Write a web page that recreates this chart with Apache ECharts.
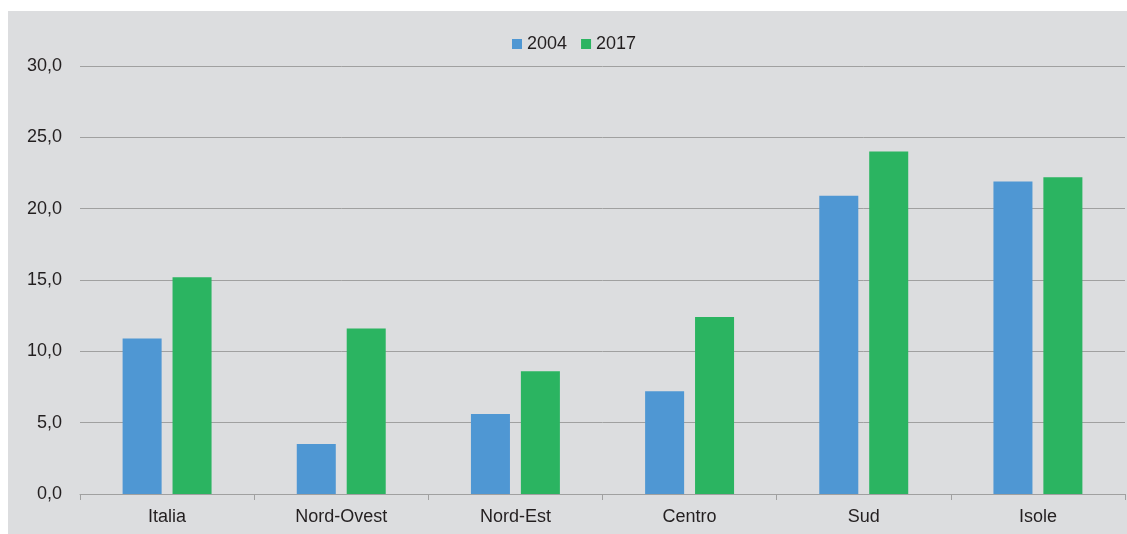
<!DOCTYPE html>
<html><head><meta charset="utf-8">
<script src="https://cdn.jsdelivr.net/npm/echarts@6/dist/echarts.min.js"></script>
<style>
html,body{margin:0;padding:0;background:#fff;width:1127px;height:534px;overflow:hidden;}
#c{position:absolute;left:8px;top:11px;width:1119px;height:523px;background:#dcdddf;}
</style></head>
<body><div id="c"></div>
<script>
const categories = ['Italia','Nord-Ovest','Nord-Est','Centro','Sud','Isole'];
const series2004 = [10.9, 3.5, 5.6, 7.2, 20.9, 21.9];
const series2017 = [15.2, 11.6, 8.6, 12.4, 24.0, 22.2];
const seriesNames = ['2004','2017'];
const chart = echarts.init(document.getElementById('c'));
const font = 'Liberation Sans, Arial, sans-serif';
chart.setOption({
  animation:false,
  backgroundColor:'#dcdddf',
  legend:{top:19,left:499,itemWidth:10,itemHeight:10,itemGap:14,icon:'rect',
    textStyle:{fontFamily:font,fontSize:18,color:'#231f20'},data:seriesNames},
  grid:{left:72,right:2,top:55,bottom:40,containLabel:false},
  xAxis:{type:'category',data:categories,
    axisLine:{lineStyle:{color:'#a0a0a0',width:1}},
    axisTick:{show:true,length:6,lineStyle:{color:'#a0a0a0'}},
    axisLabel:{fontFamily:font,fontSize:18,color:'#231f20',margin:14}},
  yAxis:{type:'value',min:0,max:30,interval:5,
    axisLabel:{fontFamily:font,fontSize:18,color:'#231f20',margin:18,formatter:v=>v.toFixed(1).replace('.',',')},
    splitLine:{lineStyle:{color:'#a0a0a0',width:1}},
    axisLine:{show:false},axisTick:{show:false}},
  series:[
    {name:seriesNames[0],type:'bar',data:series2004,barWidth:'22.4%',barGap:'28%',itemStyle:{color:'#4f97d3'}},
    {name:seriesNames[1],type:'bar',data:series2017,barWidth:'22.4%',itemStyle:{color:'#2bb461'}}
  ]
});
</script></body></html>
